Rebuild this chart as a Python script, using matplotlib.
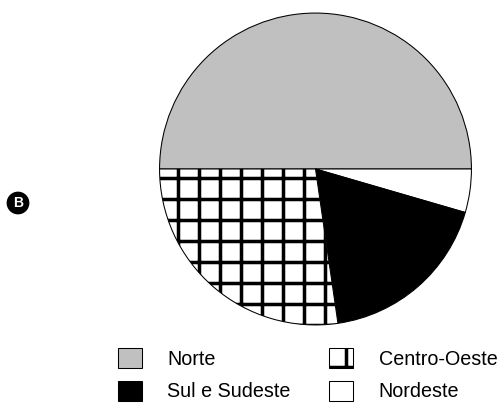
import matplotlib
matplotlib.use("Agg")
from matplotlib import pyplot as plt

# regions and their share of the pie
regions = ["Norte", "Nordeste", "Sul e Sudeste", "Centro-Oeste"]
shares = [50.0, 4.5, 18.2, 27.3]
colors = ["#c0c0c0", "white", "black", "white"]
hatches = ["", "", "", "+"]

plt.rcParams["font.family"] = ["Liberation Sans", "DejaVu Sans"]
plt.rcParams["hatch.linewidth"] = 2.0

dpi = 126
fig = plt.figure(figsize=(502 / dpi, 403 / dpi), dpi=dpi)
ax = fig.add_axes([158 / 502, (403 - 326.5) / 403, 315 / 502, 315 / 403])

wedges, _ = ax.pie(shares, colors=colors, startangle=180, counterclock=False,
                   radius=1, wedgeprops=dict(edgecolor="black", linewidth=0.6))
for w, h in zip(wedges, hatches):
    w.set_hatch(h)
ax.set_xlim(-1.01, 1.01)
ax.set_ylim(-1.01, 1.01)
ax.set_aspect("equal")
ax.axis("off")

# legend: column-wise Norte, Sul e Sudeste | Centro-Oeste, Nordeste
order = [0, 2, 3, 1]
fig.legend([wedges[i] for i in order], [regions[i] for i in order],
           loc="upper left", bbox_to_anchor=(118 / 502, 1 - 348 / 403),
           ncol=2, frameon=False, fontsize=11.3, borderpad=0, borderaxespad=0,
           handlelength=1.2, handleheight=1.2, handletextpad=1.3,
           labelspacing=0.6, columnspacing=1.95)

fig.text(18 / 502, 1 - 203 / 403, "B", color="white", fontsize=8, weight="bold",
         ha="center", va="center",
         bbox=dict(boxstyle="circle,pad=0.25", fc="black", ec="black"))

fig.savefig("out.png", dpi=dpi)
